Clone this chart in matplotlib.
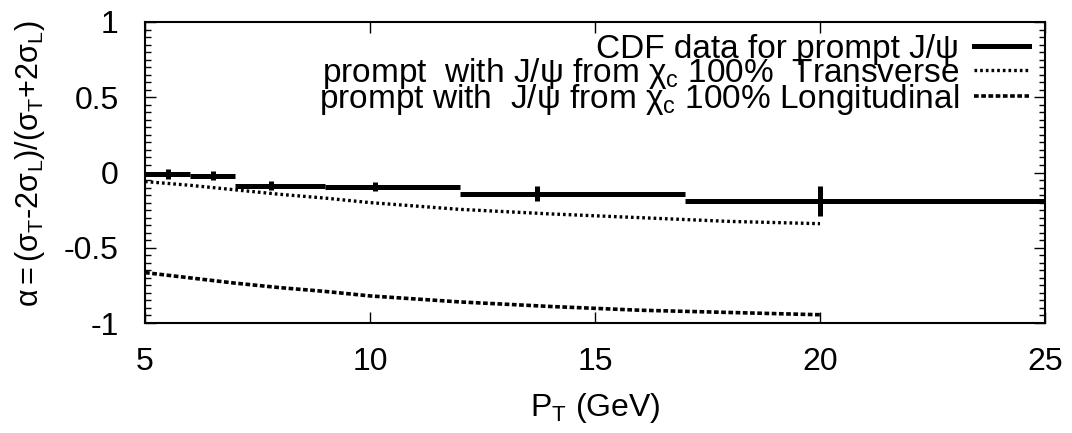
import numpy as np
import matplotlib
matplotlib.use("Agg")
import matplotlib.pyplot as plt
from matplotlib.ticker import MultipleLocator

plt.rcParams['font.family'] = ['Liberation Sans', 'DejaVu Sans']
plt.rcParams['mathtext.fontset'] = 'custom'
plt.rcParams['mathtext.rm'] = 'Liberation Sans'
plt.rcParams['mathtext.it'] = 'Liberation Sans'

# CDF prompt J/psi polarization (bins in pT)
cdf_lo = np.array([5, 6, 7, 9, 12, 17])
cdf_hi = np.array([6, 7, 9, 12, 17, 30])
cdf_pt = np.array([5.5, 6.5, 7.8, 10.1, 13.7, 20.0])
cdf_alpha = np.array([-0.01, -0.023, -0.088, -0.096, -0.14, -0.19])
cdf_err = np.array([0.03, 0.03, 0.03, 0.03, 0.05, 0.10])

# model curves
pt_model = np.array([5, 6, 7, 8, 9, 10, 12, 14, 16, 18, 20])
alpha_trans = np.array([-0.06, -0.085, -0.115, -0.145, -0.17, -0.20,
                        -0.245, -0.275, -0.30, -0.325, -0.34])
alpha_long = np.array([-0.665, -0.70, -0.735, -0.765, -0.79, -0.82,
                       -0.86, -0.89, -0.915, -0.93, -0.945])

fs = 23

fig = plt.figure(figsize=(10.72, 4.33), dpi=100)
ax = fig.add_axes([0.1353, 0.254, 0.8395, 0.6952])

ax.errorbar(cdf_pt, cdf_alpha,
            xerr=[cdf_pt - cdf_lo, cdf_hi - cdf_pt], yerr=cdf_err,
            fmt='none', ecolor='black', elinewidth=3.6, capsize=0)
ax.plot([], [], color='black', lw=3.6, label=r'CDF data for prompt J/ψ')
ax.plot(pt_model, alpha_trans, color='black', lw=2.4, ls=(0, (0.8, 0.9)),
        label=r'prompt  with J/ψ from χ$\mathregular{_c}$ 100%  Transverse')
ax.plot(pt_model, alpha_long, color='black', lw=2.6, ls=(0, (1.3, 0.7)),
        label=r'prompt with  J/ψ from χ$\mathregular{_c}$ 100% Longitudinal')

ax.set_xlim(5, 25)
ax.set_ylim(-1, 1)
ax.set_xticks([5, 10, 15, 20, 25])
ax.set_yticks([-1, -0.5, 0, 0.5, 1])
ax.set_yticklabels(['-1', '-0.5', '0', '0.5', '1'])
ax.yaxis.set_minor_locator(MultipleLocator(0.05))
ax.tick_params(direction='in', which='both', top=True, right=True,
               labelsize=fs)
ax.tick_params(axis='x', pad=17)
ax.tick_params(axis='y', pad=19)
ax.tick_params(which='major', length=8, width=1)
ax.tick_params(which='minor', length=4, width=1)
for s in ax.spines.values():
    s.set_linewidth(1.5)

ax.set_xlabel(r'$\mathregular{P_T}$ (GeV)', fontsize=fs, labelpad=10)
ax.set_ylabel(r'$\mathregular{α =(σ_T}$-$\mathregular{2σ_L)/(σ_T}$+$\mathregular{2σ_L)}$',
              fontsize=22)
ax.yaxis.set_label_coords(-0.109, 0.53)

ax.legend(loc='upper right', frameon=False, markerfirst=False, fontsize=24,
          handlelength=1.65, handletextpad=0.45, labelspacing=-0.27,
          borderaxespad=0.0, bbox_to_anchor=(0.997, 1.005))

fig.savefig('out.png', dpi=100)
